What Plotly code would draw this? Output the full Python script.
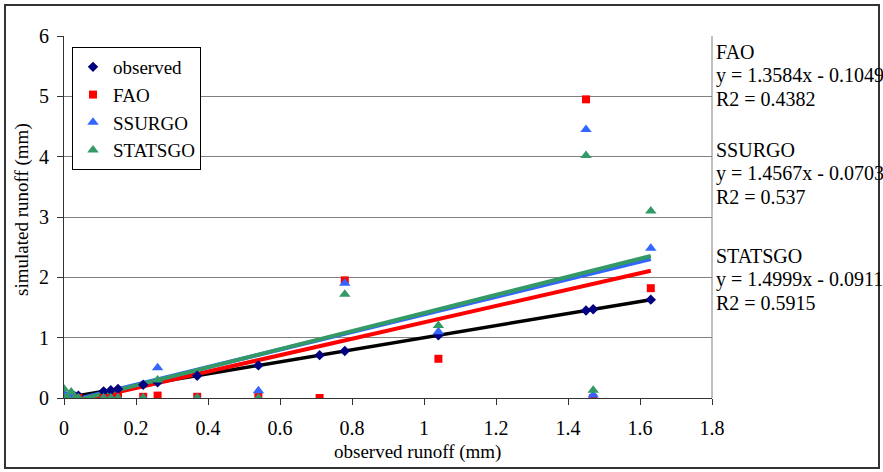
import plotly.graph_objects as go

# ---- data ----
observed_runoff = [0, 0.005, 0.01, 0.02, 0.03, 0.04, 0.11, 0.13, 0.15, 0.22, 0.26,
                   0.37, 0.54, 0.71, 0.78, 1.04, 1.45, 1.47, 1.63]
fao = [0.03, 0.02, 0.0, 0.01, 0.0, 0.0, 0.0, 0.0, 0.02, 0.02, 0.04,
       0.02, 0.02, 0.0, 1.95, 0.65, 4.95, 0.0, 1.82]
ssurgo = [0.08, 0.03, 0.0, 0.02, 0.0, 0.0, 0.0, 0.0, 0.0, 0.0, 0.5,
          0.0, 0.12, None, 1.9, 1.1, 4.45, 0.05, 2.48]
statsgo = [0.15, 0.0, 0.0, 0.1, 0.0, 0.0, 0.0, 0.0, 0.0, 0.0, 0.3,
           0.0, 0.0, None, 1.72, 1.2, 4.02, 0.13, 3.1]

series_names = ["FAO", "SSURGO", "STATSGO"]
slopes = [1.3584, 1.4567, 1.4999]
intercepts = [-0.1049, -0.0703, -0.0911]
r2 = ["0.4382", "0.537", "0.5915"]

x_ticks = [0, 0.2, 0.4, 0.6, 0.8, 1, 1.2, 1.4, 1.6, 1.8]
y_ticks = [0, 1, 2, 3, 4, 5, 6]

FONT = "Liberation Serif"
C_OBS = "#000080"
C_FAO = "#FF0000"
C_SS = "#3366FF"
C_ST = "#339966"

# plot-area geometry (pixels)
L, R, T, B = 64, 712, 36, 398
W, H = R - L, B - T


def px_x(p):
    return (p - L) / W


def px_y(p):
    return (B - p) / H


fig = go.Figure()

# trendlines (from min to max observed x)
xmin, xmax = min(observed_runoff), max(observed_runoff)
fig.add_trace(go.Scatter(x=[xmin, xmax], y=[xmin, xmax], mode="lines",
                         line=dict(color="black", width=3.5), showlegend=False,
                         hoverinfo="skip"))
for name, m, b, c in zip(series_names, slopes, intercepts, [C_FAO, C_SS, C_ST]):
    fig.add_trace(go.Scatter(x=[xmin, xmax], y=[m * xmin + b, m * xmax + b], mode="lines",
                             line=dict(color=c, width=4), showlegend=False,
                             hoverinfo="skip"))

# markers
fig.add_trace(go.Scatter(x=observed_runoff, y=observed_runoff, mode="markers", name="observed",
                         marker=dict(symbol="diamond", size=8, color=C_OBS)))
fig.add_trace(go.Scatter(x=observed_runoff, y=fao, mode="markers", name="FAO",
                         marker=dict(symbol="square", size=8, color=C_FAO)))
fig.add_trace(go.Scatter(x=observed_runoff, y=ssurgo, mode="markers", name="SSURGO",
                         marker=dict(symbol="triangle-up", size=10, color=C_SS)))
fig.add_trace(go.Scatter(x=observed_runoff, y=statsgo, mode="markers", name="STATSGO",
                         marker=dict(symbol="triangle-up", size=10, color=C_ST)))

# equation annotations (one per line, Excel-like line spacing)
block_top = [52, 150, 256]
LINE = 23.5
for name, m, b, r, top in zip(series_names, slopes, intercepts, r2, block_top):
    sign = "-" if b < 0 else "+"
    lines = [name, f"y = {m:.4f}x {sign} {abs(b):.4f}", f"R2 = {r}"]
    for i, t in enumerate(lines):
        fig.add_annotation(x=px_x(714), xref="paper", y=px_y(top + i * LINE), yref="paper",
                           xanchor="left", yanchor="middle", align="left",
                           text=t, showarrow=False,
                           font=dict(family=FONT, size=20, color="black"))

# axis titles
fig.add_annotation(x=px_x(417), xref="paper", y=px_y(452), yref="paper",
                   xanchor="center", yanchor="middle", showarrow=False,
                   text="observed runoff (mm)", font=dict(family=FONT, size=19, color="black"))
fig.add_annotation(x=px_x(22), xref="paper", y=px_y(210), yref="paper",
                   xanchor="center", yanchor="middle", showarrow=False, textangle=-90,
                   text="simulated runoff (mm)", font=dict(family=FONT, size=19, color="black"))

# outer border
fig.add_shape(type="rect", xref="paper", yref="paper",
              x0=px_x(5), x1=px_x(879), y0=px_y(468), y1=px_y(5),
              line=dict(color="#333333", width=2), fillcolor="rgba(0,0,0,0)")
# right plot-area border
fig.add_shape(type="line", xref="paper", yref="paper", x0=1, x1=1, y0=0, y1=1,
              line=dict(color="#808080", width=1))

fig.update_layout(
    width=883, height=472,
    margin=dict(l=L, r=883 - R, t=T, b=472 - B),
    paper_bgcolor="white", plot_bgcolor="white",
    font=dict(family=FONT, size=20, color="black"),
    showlegend=True,
    legend=dict(x=px_x(72), y=px_y(47), xanchor="left", yanchor="top",
                bgcolor="white", bordercolor="black", borderwidth=1,
                font=dict(family=FONT, size=19, color="black"),
                itemwidth=30),
    xaxis=dict(range=[0, 1.8], tickvals=x_ticks, ticks="outside", ticklen=6,
               tickcolor="#333333", showline=True, linecolor="#333333", linewidth=1,
               showgrid=False, zeroline=False, ticklabelstandoff=6,
               tickfont=dict(family=FONT, size=20)),
    yaxis=dict(range=[0, 6], tickvals=y_ticks, ticks="outside", ticklen=6,
               tickcolor="#333333", showline=True, linecolor="#333333", linewidth=1,
               showgrid=True, gridcolor="#808080", gridwidth=1, zeroline=False,
               ticklabelstandoff=4, tickfont=dict(family=FONT, size=20)),
)

fig.write_html("out.html")
